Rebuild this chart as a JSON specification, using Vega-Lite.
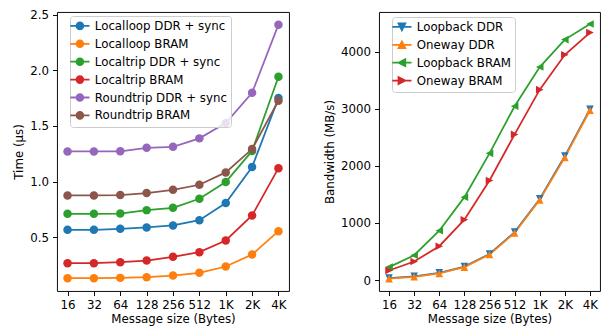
{
  "$schema": "https://vega.github.io/schema/vega-lite/v6.json",
  "padding": {"left": 13, "top": 9, "right": 0, "bottom": 0},
  "spacing": 90,
  "bounds": "flush",
  "resolve": {"scale": {"color": "independent", "shape": "independent", "x": "independent", "y": "independent"}, "legend": {"color": "independent", "shape": "independent"}},
  "config": {
    "font": "DejaVu Sans",
    "view": {"stroke": "#000000", "strokeWidth": 0.95},
    "axis": {
      "domain": false, "grid": false, "tickColor": "#000000", "tickWidth": 0.95, "tickSize": 4.5,
      "labelPadding": 4, "labelFontSize": 11.8, "labelColor": "#000000", "labelFont": "DejaVu Sans",
      "titleFontSize": 11.8, "titleFontWeight": "normal", "titleColor": "#000000", "titleFont": "DejaVu Sans"
    },
    "legend": {
      "labelFont": "DejaVu Sans", "labelFontSize": 11.8, "labelColor": "#000000",
      "fillColor": "rgba(255,255,255,0.8)", "strokeColor": "#cccccc", "cornerRadius": 3,
      "padding": 4, "rowPadding": 2.9, "labelOffset": 9, "symbolSize": 64, "symbolStrokeWidth": 1.77,
      "orient": "none"
    }
  },
  "datasets": {
    "latency": [
      {"size": "16", "series": "Localloop DDR + sync", "time": 0.566},
      {"size": "32", "series": "Localloop DDR + sync", "time": 0.566},
      {"size": "64", "series": "Localloop DDR + sync", "time": 0.575},
      {"size": "128", "series": "Localloop DDR + sync", "time": 0.587},
      {"size": "256", "series": "Localloop DDR + sync", "time": 0.605},
      {"size": "512", "series": "Localloop DDR + sync", "time": 0.653},
      {"size": "1K", "series": "Localloop DDR + sync", "time": 0.806},
      {"size": "2K", "series": "Localloop DDR + sync", "time": 1.13},
      {"size": "4K", "series": "Localloop DDR + sync", "time": 1.75},
      {"size": "16", "series": "Localloop BRAM", "time": 0.131},
      {"size": "32", "series": "Localloop BRAM", "time": 0.131},
      {"size": "64", "series": "Localloop BRAM", "time": 0.134},
      {"size": "128", "series": "Localloop BRAM", "time": 0.14},
      {"size": "256", "series": "Localloop BRAM", "time": 0.155},
      {"size": "512", "series": "Localloop BRAM", "time": 0.179},
      {"size": "1K", "series": "Localloop BRAM", "time": 0.236},
      {"size": "2K", "series": "Localloop BRAM", "time": 0.344},
      {"size": "4K", "series": "Localloop BRAM", "time": 0.554},
      {"size": "16", "series": "Localtrip DDR + sync", "time": 0.71},
      {"size": "32", "series": "Localtrip DDR + sync", "time": 0.71},
      {"size": "64", "series": "Localtrip DDR + sync", "time": 0.712},
      {"size": "128", "series": "Localtrip DDR + sync", "time": 0.743},
      {"size": "256", "series": "Localtrip DDR + sync", "time": 0.764},
      {"size": "512", "series": "Localtrip DDR + sync", "time": 0.845},
      {"size": "1K", "series": "Localtrip DDR + sync", "time": 0.995},
      {"size": "2K", "series": "Localtrip DDR + sync", "time": 1.275},
      {"size": "4K", "series": "Localtrip DDR + sync", "time": 1.942},
      {"size": "16", "series": "Localtrip BRAM", "time": 0.266},
      {"size": "32", "series": "Localtrip BRAM", "time": 0.266},
      {"size": "64", "series": "Localtrip BRAM", "time": 0.275},
      {"size": "128", "series": "Localtrip BRAM", "time": 0.29},
      {"size": "256", "series": "Localtrip BRAM", "time": 0.323},
      {"size": "512", "series": "Localtrip BRAM", "time": 0.365},
      {"size": "1K", "series": "Localtrip BRAM", "time": 0.47},
      {"size": "2K", "series": "Localtrip BRAM", "time": 0.695},
      {"size": "4K", "series": "Localtrip BRAM", "time": 1.12},
      {"size": "16", "series": "Roundtrip DDR + sync", "time": 1.271},
      {"size": "32", "series": "Roundtrip DDR + sync", "time": 1.271},
      {"size": "64", "series": "Roundtrip DDR + sync", "time": 1.272},
      {"size": "128", "series": "Roundtrip DDR + sync", "time": 1.303},
      {"size": "256", "series": "Roundtrip DDR + sync", "time": 1.312},
      {"size": "512", "series": "Roundtrip DDR + sync", "time": 1.388},
      {"size": "1K", "series": "Roundtrip DDR + sync", "time": 1.526},
      {"size": "2K", "series": "Roundtrip DDR + sync", "time": 1.798},
      {"size": "4K", "series": "Roundtrip DDR + sync", "time": 2.41},
      {"size": "16", "series": "Roundtrip BRAM", "time": 0.875},
      {"size": "32", "series": "Roundtrip BRAM", "time": 0.875},
      {"size": "64", "series": "Roundtrip BRAM", "time": 0.878},
      {"size": "128", "series": "Roundtrip BRAM", "time": 0.896},
      {"size": "256", "series": "Roundtrip BRAM", "time": 0.926},
      {"size": "512", "series": "Roundtrip BRAM", "time": 0.971},
      {"size": "1K", "series": "Roundtrip BRAM", "time": 1.082},
      {"size": "2K", "series": "Roundtrip BRAM", "time": 1.292},
      {"size": "4K", "series": "Roundtrip BRAM", "time": 1.726}
    ],
    "bandwidth": [
      {"size": "16", "series": "Loopback DDR", "bw": 35},
      {"size": "32", "series": "Loopback DDR", "bw": 66},
      {"size": "64", "series": "Loopback DDR", "bw": 125},
      {"size": "128", "series": "Loopback DDR", "bw": 236},
      {"size": "256", "series": "Loopback DDR", "bw": 456},
      {"size": "512", "series": "Loopback DDR", "bw": 840},
      {"size": "1K", "series": "Loopback DDR", "bw": 1420},
      {"size": "2K", "series": "Loopback DDR", "bw": 2170},
      {"size": "4K", "series": "Loopback DDR", "bw": 2990},
      {"size": "16", "series": "Oneway DDR", "bw": 25},
      {"size": "32", "series": "Oneway DDR", "bw": 57},
      {"size": "64", "series": "Oneway DDR", "bw": 115},
      {"size": "128", "series": "Oneway DDR", "bw": 226},
      {"size": "256", "series": "Oneway DDR", "bw": 446},
      {"size": "512", "series": "Oneway DDR", "bw": 824},
      {"size": "1K", "series": "Oneway DDR", "bw": 1404},
      {"size": "2K", "series": "Oneway DDR", "bw": 2148},
      {"size": "4K", "series": "Oneway DDR", "bw": 2972},
      {"size": "16", "series": "Loopback BRAM", "bw": 226},
      {"size": "32", "series": "Loopback BRAM", "bw": 435},
      {"size": "64", "series": "Loopback BRAM", "bw": 864},
      {"size": "128", "series": "Loopback BRAM", "bw": 1451},
      {"size": "256", "series": "Loopback BRAM", "bw": 2218},
      {"size": "512", "series": "Loopback BRAM", "bw": 3042},
      {"size": "1K", "series": "Loopback BRAM", "bw": 3728},
      {"size": "2K", "series": "Loopback BRAM", "bw": 4209},
      {"size": "4K", "series": "Loopback BRAM", "bw": 4483},
      {"size": "16", "series": "Oneway BRAM", "bw": 167},
      {"size": "32", "series": "Oneway BRAM", "bw": 324},
      {"size": "64", "series": "Oneway BRAM", "bw": 592},
      {"size": "128", "series": "Oneway BRAM", "bw": 1056},
      {"size": "256", "series": "Oneway BRAM", "bw": 1742},
      {"size": "512", "series": "Oneway BRAM", "bw": 2549},
      {"size": "1K", "series": "Oneway BRAM", "bw": 3333},
      {"size": "2K", "series": "Oneway BRAM", "bw": 3943},
      {"size": "4K", "series": "Oneway BRAM", "bw": 4331}
    ]
  },
  "hconcat": [
    {
      "width": 232,
      "height": 279,
      "data": {"name": "latency"},
      "encoding": {
        "x": {"field": "size", "type": "ordinal", "sort": ["16", "32", "64", "128", "256", "512", "1K", "2K", "4K"],
              "scale": {"type": "point", "padding": 0.4},
              "axis": {"title": "Message size (Bytes)", "labelAngle": 0, "titlePadding": 2}},
        "y": {"field": "time", "type": "quantitative",
              "scale": {"domain": [0.016, 2.524], "nice": false, "zero": false},
              "axis": {"title": "Time (µs)", "values": [0.5, 1.0, 1.5, 2.0, 2.5], "format": ".1f", "titlePadding": 5}},
        "color": {"field": "series", "type": "nominal",
                  "scale": {"domain": ["Localloop DDR + sync", "Localloop BRAM", "Localtrip DDR + sync", "Localtrip BRAM", "Roundtrip DDR + sync", "Roundtrip BRAM"],
                            "range": ["#1f77b4", "#ff7f0e", "#2ca02c", "#d62728", "#9467bd", "#8c564b"]},
                  "legend": {"title": null, "orient": "none", "legendX": 13, "legendY": 4,
                             "symbolType": "M-2.4,0L2.4,0M-0.85,0A0.85,0.85,0,1,0,0.85,0A0.85,0.85,0,1,0,-0.85,0Z"}}
      },
      "layer": [
        {"mark": {"type": "line", "strokeWidth": 1.77}},
        {"mark": {"type": "circle", "opacity": 1, "size": 72}}
      ]
    },
    {
      "width": 221,
      "height": 279,
      "data": {"name": "bandwidth"},
      "encoding": {
        "x": {"field": "size", "type": "ordinal", "sort": ["16", "32", "64", "128", "256", "512", "1K", "2K", "4K"],
              "scale": {"type": "point", "padding": 0.4},
              "axis": {"title": "Message size (Bytes)", "labelAngle": 0, "titlePadding": 2}},
        "y": {"field": "bw", "type": "quantitative",
              "scale": {"domain": [-192, 4692], "nice": false, "zero": false},
              "axis": {"title": "Bandwidth (MB/s)", "values": [0, 1000, 2000, 3000, 4000], "format": "d", "titlePadding": 5}},
        "color": {"field": "series", "type": "nominal",
                  "scale": {"domain": ["Loopback DDR", "Oneway DDR", "Loopback BRAM", "Oneway BRAM"],
                            "range": ["#1f77b4", "#ff7f0e", "#2ca02c", "#d62728"]},
                  "legend": {"title": null, "orient": "none", "legendX": 13, "legendY": 5,
                             "symbolType": "M-2.4,0L2.4,0",
                             "encode": {"symbols": {"update": {
                               "shape": {"signal": "datum.value === 'Loopback DDR' ? 'M-2.4,0L2.4,0M-0.85,-0.85L0.85,-0.85L0,0.85Z' : datum.value === 'Oneway DDR' ? 'M-2.4,0L2.4,0M0,-0.85L-0.85,0.85L0.85,0.85Z' : datum.value === 'Loopback BRAM' ? 'M-2.4,0L2.4,0M-0.85,0L0.85,-0.85L0.85,0.85Z' : 'M-2.4,0L2.4,0M0.85,0L-0.85,-0.85L-0.85,0.85Z'"}
                             }}}}}
      },
      "layer": [
        {"mark": {"type": "line", "strokeWidth": 1.77}},
        {"transform": [{"filter": "datum.series === 'Loopback DDR'"}],
         "mark": {"type": "point", "filled": true, "opacity": 1, "size": 80, "shape": "M-0.85,-0.85L0.85,-0.85L0,0.85Z"}},
        {"transform": [{"filter": "datum.series === 'Oneway DDR'"}],
         "mark": {"type": "point", "filled": true, "opacity": 1, "size": 80, "shape": "M0,-0.85L-0.85,0.85L0.85,0.85Z"}},
        {"transform": [{"filter": "datum.series === 'Loopback BRAM'"}],
         "mark": {"type": "point", "filled": true, "opacity": 1, "size": 80, "shape": "M-0.85,0L0.85,-0.85L0.85,0.85Z"}},
        {"transform": [{"filter": "datum.series === 'Oneway BRAM'"}],
         "mark": {"type": "point", "filled": true, "opacity": 1, "size": 80, "shape": "M0.85,0L-0.85,-0.85L-0.85,0.85Z"}}
      ]
    }
  ]
}
